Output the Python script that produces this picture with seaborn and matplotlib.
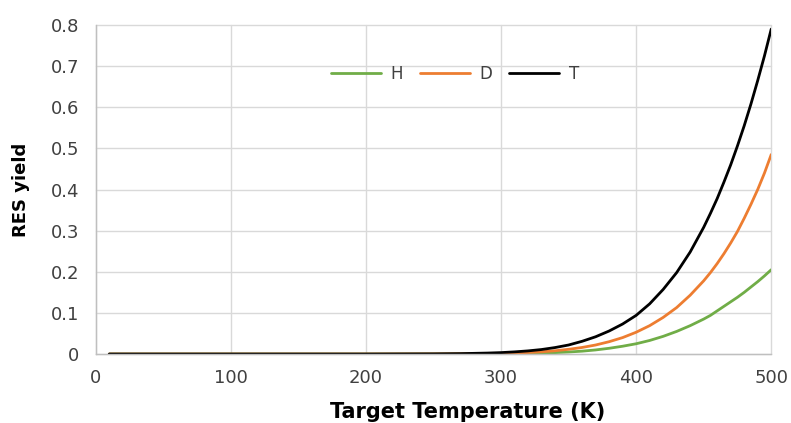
import os
import numpy as np
import pandas as pd
import matplotlib
matplotlib.use("Agg")
import matplotlib.pyplot as plt
import seaborn as sns

temps = [10, 100, 200, 250, 270, 290, 300, 310, 320, 330, 340, 350, 360, 370, 380,
         390, 400, 410, 420, 430, 440, 450, 455, 460, 465, 470, 475, 480, 485, 490,
         495, 500]
H = [0, 0, 0, 0.0001, 0.0002, 0.0004, 0.0006, 0.001, 0.0016, 0.0024, 0.0035, 0.005,
     0.007, 0.010, 0.014, 0.019, 0.025, 0.033, 0.043, 0.055, 0.069, 0.085, 0.094,
     0.105, 0.116, 0.127, 0.138, 0.150, 0.163, 0.176, 0.190, 0.205]
D = [0, 0, 0, 0.0002, 0.0005, 0.001, 0.0015, 0.0024, 0.0037, 0.0055, 0.008, 0.0115,
     0.016, 0.022, 0.030, 0.040, 0.053, 0.069, 0.089, 0.113, 0.143, 0.178, 0.198,
     0.22, 0.244, 0.27, 0.298, 0.33, 0.364, 0.40, 0.44, 0.485]
T = [0, 0, 0, 0.0004, 0.0010, 0.0024, 0.0035, 0.0053, 0.0077, 0.011, 0.0158, 0.022,
     0.031, 0.042, 0.056, 0.073, 0.094, 0.122, 0.157, 0.198, 0.248, 0.308, 0.342,
     0.378, 0.418, 0.46, 0.506, 0.555, 0.608, 0.665, 0.725, 0.79]
series_names = ["H", "D", "T"]
colors = ["#70AD47", "#ED7D31", "#000000"]
xticks = [0, 100, 200, 300, 400, 500]
yticks = [0, 0.1, 0.2, 0.3, 0.4, 0.5, 0.6, 0.7, 0.8]
ytick_labels = ["0", "0.1", "0.2", "0.3", "0.4", "0.5", "0.6", "0.7", "0.8"]

df = pd.DataFrame({
    "Temp": temps * 3,
    "Yield": H + D + T,
    "Isotope": sum([[n] * len(temps) for n in series_names], []),
})

sns.set_theme(style="white")
plt.rcParams["font.family"] = ["DejaVu Sans"]

fig = plt.figure(figsize=(7.91, 4.23), dpi=100)
ax = fig.add_axes([0.121, 0.163, 0.854, 0.778])

sns.lineplot(data=df, x="Temp", y="Yield", hue="Isotope", hue_order=series_names,
             palette=colors, linewidth=2.0, ax=ax, legend=True)

ax.set_xlim(0, 500)
ax.set_ylim(0, 0.8)
ax.set_xticks(xticks)
ax.set_yticks(yticks)
ax.set_yticklabels(ytick_labels)
ax.grid(True, color="#d9d9d9", linewidth=1.0)
for gl in ax.get_xgridlines() + ax.get_ygridlines():
    gl.set_clip_on(False)
ax.set_axisbelow(True)
for s in ["top", "right"]:
    ax.spines[s].set_visible(False)
for s in ["left", "bottom"]:
    ax.spines[s].set_color("#bfbfbf")
    ax.spines[s].set_linewidth(1.0)
ax.tick_params(axis="both", length=0, labelsize=13, labelcolor="#404040")
ax.tick_params(axis="x", pad=11)
ax.tick_params(axis="y", pad=12)

xl = ax.set_xlabel("Target Temperature (K)", fontsize=15, fontweight="bold", color="#000000")
xl.set_verticalalignment("baseline")
ax.xaxis.set_label_coords(0.55, -0.1945)
ax.set_ylabel("RES yield", fontsize=13, fontweight="bold", color="#000000", labelpad=15)

leg = ax.legend(loc="center", bbox_to_anchor=(0.532, 0.852), ncol=3, frameon=False,
                fontsize=12, handlelength=3.0, columnspacing=1.0, handletextpad=0.6)
for t in leg.get_texts():
    t.set_color("#404040")

fig.savefig("out.png", dpi=100)
